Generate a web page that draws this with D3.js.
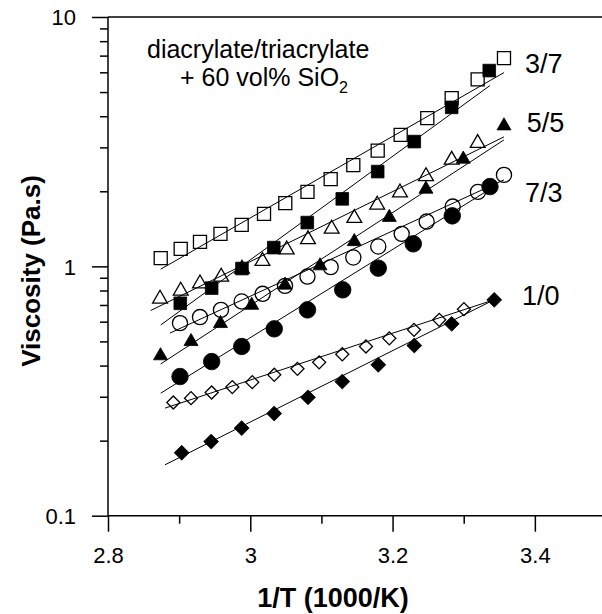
<!DOCTYPE html>
<html>
<head>
<meta charset="utf-8">
<script src="https://cdn.jsdelivr.net/npm/d3@7"></script>
<style>
  html, body { margin: 0; padding: 0; background: #fff; }
  svg { display: block; }
  text { font-family: "Liberation Sans", Arial, Helvetica, sans-serif; fill: #000; }
</style>
</head>
<body>
<svg id="chart" width="602" height="614"></svg>
<script>
// ---------- data (x = 1/T in 1000/K, v = viscosity in Pa.s) ----------
const xTicks = [2.8, 3.0, 3.2, 3.4];
const xTickLabels = ["2.8", "3", "3.2", "3.4"];
const xMinorTicks = [2.9, 3.1, 3.3];
const yTicks = [0.1, 1, 10];
const yTickLabels = ["0.1", "1", "10"];

// 3/7 open squares
const x37o = [2.8741, 2.9022, 2.9293, 2.9581, 2.9879, 3.0193, 3.0492, 3.0804, 3.1130, 3.1448, 3.1791, 3.2114, 3.2488, 3.2831, 3.3196, 3.3566];
const v37o = [1.079, 1.175, 1.254, 1.350, 1.467, 1.624, 1.792, 1.989, 2.237, 2.545, 2.913, 3.367, 3.929, 4.725, 5.62, 6.84];
const fit37oX = [2.8741, 3.3566];
const fit37oV = [0.974, 5.985];
// 3/7 filled squares
const x37f = [2.9016, 2.9457, 2.9883, 3.0330, 3.0801, 3.1293, 3.1791, 3.2305, 3.2831, 3.3359];
const v37f = [0.711, 0.818, 0.980, 1.189, 1.498, 1.865, 2.399, 3.165, 4.341, 6.097];
const fit37fX = [2.8741, 3.3369];
const fit37fV = [0.582, 5.31];

// 5/5 open triangles
const x55o = [2.8731, 2.9022, 2.9293, 2.9591, 2.9883, 3.0171, 3.0512, 3.0811, 3.1144, 3.1462, 3.1784, 3.2104, 3.2470, 3.2831, 3.3196];
const v55o = [0.741, 0.798, 0.853, 0.908, 0.977, 1.049, 1.168, 1.283, 1.414, 1.561, 1.765, 1.977, 2.296, 2.673, 3.119];
const fit55oX = [2.86, 3.3566];
const fit55oV = [0.665, 3.306];
// 5/5 filled triangles
const x55f = [2.8738, 2.9167, 2.9581, 3.0020, 3.0488, 3.0980, 3.1462, 3.1954, 3.2469, 3.2994, 3.3566];
const v55f = [0.438, 0.4995, 0.590, 0.698, 0.841, 1.005, 1.257, 1.572, 2.040, 2.691, 3.660];
const fit55fX = [2.8741, 3.3566];
const fit55fV = [0.406, 3.215];

// 7/3 open circles
const x73o = [2.9012, 2.9293, 2.9588, 2.9879, 3.0174, 3.0488, 3.0804, 3.1130, 3.1448, 3.1799, 3.2128, 3.2479, 3.2845, 3.3200, 3.3566];
const v73o = [0.592, 0.626, 0.669, 0.723, 0.776, 0.835, 0.910, 0.993, 1.085, 1.201, 1.350, 1.512, 1.737, 1.989, 2.327];
const fit73oX = [2.8871, 3.3566];
const fit73oV = [0.540, 2.223];
// 7/3 filled circles
const x73f = [2.9012, 2.9457, 2.9879, 3.0337, 3.0804, 3.1299, 3.1799, 3.2291, 3.2839, 3.3369];
const v73f = [0.3614, 0.415, 0.477, 0.5615, 0.669, 0.805, 0.9835, 1.231, 1.594, 2.089];
const fit73fX = [2.8741, 3.3397];
const fit73fV = [0.310, 2.064];

// 1/0 open diamonds
const x10o = [2.8918, 2.9167, 2.9457, 2.9747, 3.0028, 3.0337, 3.0663, 3.0968, 3.1293, 3.1626, 3.1954, 3.2301, 3.2656, 3.3003];
const v10o = [0.2844, 0.2961, 0.3119, 0.3279, 0.3433, 0.3673, 0.3882, 0.4122, 0.4439, 0.4770, 0.5143, 0.5564, 0.6102, 0.6735];
const fit10oX = [2.8801, 3.3425];
const fit10oV = [0.270, 0.734];
// 1/0 filled diamonds
const x10f = [2.9036, 2.9450, 2.9879, 3.0336, 3.0811, 3.1293, 3.1799, 3.2305, 3.2831, 3.3429];
const v10f = [0.1788, 0.1983, 0.2245, 0.2569, 0.2984, 0.3451, 0.4028, 0.4814, 0.5880, 0.7338];
const fit10fX = [2.8801, 3.3425];
const fit10fV = [0.160, 0.734];

const seriesLabels = ["3/7", "5/5", "7/3", "1/0"];
const seriesLabelX = [3.3861, 3.3885, 3.3861, 3.3819];
const seriesLabelV = [6.52, 3.79, 1.98, 0.765];

// ---------- drawing ----------
const svg = d3.select("#chart");
const x = d3.scaleLinear().domain([2.8, 3.5]).range([108, 606]);
const y = d3.scaleLog().domain([0.1, 10]).range([515.7, 17]);
const font = '"Liberation Sans", Arial, Helvetica, sans-serif';

// axes
const yMinor = [];
[0.1, 1].forEach(d => { for (let k = 2; k <= 9; k++) yMinor.push(d * k); });

const gy = svg.append("g").attr("transform", "translate(108,0)");
gy.call(d3.axisLeft(y).tickValues(yMinor).tickSize(8).tickFormat(""));
gy.call(g => g.select(".domain").remove());
const gyMaj = svg.append("g").attr("transform", "translate(108,0)")
  .call(d3.axisLeft(y).tickValues(yTicks).tickSize(16).tickPadding(32)
        .tickFormat((d, i) => yTickLabels[i]));
gyMaj.select(".domain").remove();
gyMaj.selectAll("text").attr("font-size", 22).attr("font-family", font).attr("x", -32).attr("dy", "0.35em");

const gx = svg.append("g").attr("transform", "translate(0,515.7)");
gx.call(d3.axisBottom(x).tickValues(xMinorTicks).tickSize(8).tickFormat(""));
gx.select(".domain").remove();
const gxMaj = svg.append("g").attr("transform", "translate(0,515.7)")
  .call(d3.axisBottom(x).tickValues(xTicks).tickSize(16).tickPadding(16)
        .tickFormat((d, i) => xTickLabels[i]));
gxMaj.select(".domain").remove();
gxMaj.selectAll("text").attr("font-size", 22).attr("font-family", font).attr("dy", "0.71em");

svg.selectAll(".tick line").attr("stroke", "#000").attr("stroke-width", 1.5);

// frame lines (left, bottom, top)
svg.append("line").attr("x1", x(2.8)).attr("x2", x(2.8)).attr("y1", y(10)).attr("y2", y(0.1))
  .attr("stroke", "#000").attr("stroke-width", 1.5);
svg.append("line").attr("x1", x(2.8)).attr("x2", 602).attr("y1", y(0.1)).attr("y2", y(0.1))
  .attr("stroke", "#000").attr("stroke-width", 1.5);
svg.append("line").attr("x1", x(2.8)).attr("x2", 602).attr("y1", y(10)).attr("y2", y(10))
  .attr("stroke", "#000").attr("stroke-width", 1.5);

// axis titles
svg.append("text").attr("x", 333).attr("y", 607).attr("text-anchor", "middle")
  .attr("font-size", 27).attr("font-weight", "bold").text("1/T (1000/K)");
svg.append("text").attr("transform", "translate(40,271) rotate(-90)").attr("text-anchor", "middle")
  .attr("font-size", 26).attr("font-weight", "bold").text("Viscosity (Pa.s)");

// annotation
svg.append("text").attr("x", 147).attr("y", 58)
  .attr("font-size", 25).text("diacrylate/triacrylate");
const t2 = svg.append("text").attr("x", 180).attr("y", 86).attr("font-size", 25);
t2.append("tspan").text("+ 60 vol% SiO");
t2.append("tspan").attr("font-size", 16).attr("dy", 7).text("2");

// fit lines
const fits = [
  [fit37oX, fit37oV], [fit37fX, fit37fV], [fit55oX, fit55oV], [fit55fX, fit55fV],
  [fit73oX, fit73oV], [fit73fX, fit73fV], [fit10oX, fit10oV], [fit10fX, fit10fV]
];
const lineGen = d3.line().x(d => x(d[0])).y(d => y(d[1]));
fits.forEach(([fx, fv]) => {
  svg.append("path").datum(fx.map((d, i) => [d, fv[i]]))
    .attr("d", lineGen).attr("fill", "none").attr("stroke", "#000").attr("stroke-width", 1);
});

// markers
function drawSeries(xs, vs, type, size, filled, rotate) {
  const sym = d3.symbol().type(type).size(size);
  svg.append("g").selectAll("path").data(xs.map((d, i) => [d, vs[i]])).join("path")
    .attr("transform", d => `translate(${x(d[0])},${y(d[1])})` + (rotate ? " rotate(45)" : ""))
    .attr("d", sym)
    .attr("fill", filled ? "#000" : "none")
    .attr("stroke", "#000")
    .attr("stroke-width", filled ? 0.8 : 1.3);
}
drawSeries(x10o, v10o, d3.symbolSquare, 85, false, true);
drawSeries(x73o, v73o, d3.symbolCircle, 180, false, false);
drawSeries(x55o, v55o, d3.symbolTriangle, 95, false, false);
drawSeries(x37o, v37o, d3.symbolSquare, 170, false, false);
drawSeries(x10f, v10f, d3.symbolSquare, 110, true, true);
drawSeries(x73f, v73f, d3.symbolCircle, 215, true, false);
drawSeries(x55f, v55f, d3.symbolTriangle, 85, true, false);
drawSeries(x37f, v37f, d3.symbolSquare, 160, true, false);

// series labels
svg.append("g").selectAll("text").data(seriesLabels).join("text")
  .attr("x", (d, i) => x(seriesLabelX[i]))
  .attr("y", (d, i) => y(seriesLabelV[i]))
  .attr("dy", "0.35em")
  .attr("font-size", 27)
  .text(d => d);
</script>
</body>
</html>
